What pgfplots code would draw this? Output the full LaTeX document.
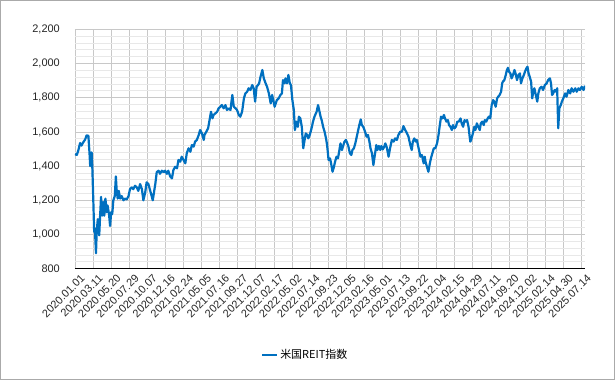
\documentclass[border=0pt]{standalone}
\usepackage{pgfplots}
\pgfplotsset{compat=1.18}
\usepackage{fontspec}
\setmainfont{Liberation Sans}
\newfontfamily\cjk{Noto Sans CJK JP}
\definecolor{reit}{RGB}{0,112,192}
\definecolor{gmaj}{RGB}{200,200,200}
\definecolor{gmin}{RGB}{232,232,232}
\definecolor{frame}{RGB}{170,170,170}
\begin{document}
\begin{tikzpicture}
\begin{axis}[
  at={(0,0)}, anchor=south west,
  scale only axis, width=510bp, height=239.4bp,
  xmin=0, xmax=1410, ymin=800, ymax=2200,
  xtick={0,50,...,1400},
  xticklabels={2020.01.01,2020.03.11,2020.05.20,2020.07.29,2020.10.07,2020.12.16,2021.02.24,2021.05.05,2021.07.16,2021.09.27,2021.12.07,2022.02.17,2022.05.02,2022.07.14,2022.09.23,2022.12.05,2023.02.16,2023.05.01,2023.07.13,2023.09.22,2023.12.04,2024.02.15,2024.04.29,2024.07.11,2024.09.20,2024.12.02,2025.02.14,2025.04.30,2025.07.14},
  ytick={800,1000,...,2200},
  minor y tick num=4,
  major tick length=0pt, minor tick length=0pt,
  xmajorgrids, ymajorgrids, yminorgrids,
  major grid style={gmaj, line width=0.8bp},
  minor grid style={gmin, line width=0.8bp},
  axis x line*=bottom, axis y line*=left,
  x axis line style={black, line width=1.3bp, -},
  y axis line style={draw=none},
  /pgf/number format/.cd, 1000 sep={,}, assume math mode=true,
  /pgfplots/.cd,
  ticklabel style={font=\fontsize{11}{13}\selectfont, text=black!85},
  yticklabel style={inner sep=0pt, xshift=-15bp},
  xticklabel style={rotate=45, anchor=north east, inner sep=0pt, yshift=-7bp, xshift=0bp},
  legend style={draw=none, fill=none, at={(axis description cs:0.451,-0.36)}, anchor=center, font=\fontsize{11}{13}\selectfont},
  legend image code/.code={\draw[#1, line width=2.5bp] (0bp,0bp) -- (15bp,0bp);},
]
\addplot[reit, line width=2.2bp, line join=round] coordinates {
(0,1470)(5,1465)(9,1490)(14,1535)(18,1520)(23,1540)(28,1555)(32,1580)(37,1577)(40,1480)
(42,1400)(43,1440)(46,1480)(48,1385)(51,1170)(53,1015)(55,1035)(58,890)(60,1015)(63,1090)
(65,1035)(67,995)(69,1090)(72,1220)(75,1110)(78,1190)(81,1110)(84,1210)(88,1130)(90,1170)
(94,1120)(97,1050)(100,1130)(103,1120)(106,1200)(110,1225)(113,1340)(115,1265)(118,1210)(121,1255)
(125,1210)(129,1225)(134,1200)(138,1210)(143,1205)(148,1225)(152,1265)(157,1275)(161,1265)(166,1285)
(171,1275)(175,1255)(180,1295)(185,1265)(189,1200)(194,1245)(198,1305)(203,1295)(208,1255)(212,1225)
(215,1200)(219,1255)(222,1295)(226,1365)(231,1373)(235,1355)(240,1373)(245,1365)(249,1373)(254,1355)
(258,1373)(263,1340)(268,1328)(272,1377)(277,1396)(282,1387)(286,1436)(291,1426)(295,1455)(300,1436)
(305,1416)(309,1475)(314,1504)(319,1484)(323,1523)(328,1514)(332,1543)(337,1553)(342,1582)(346,1611)
(351,1591)(356,1553)(358,1582)(363,1601)(368,1621)(372,1669)(376,1718)(380,1679)(383,1699)(388,1708)
(393,1718)(397,1738)(402,1747)(406,1757)(411,1738)(416,1757)(420,1728)(425,1738)(430,1728)(432,1767)
(435,1816)(439,1747)(444,1738)(448,1728)(453,1699)(457,1689)(462,1718)(467,1796)(471,1825)(476,1835)
(480,1855)(485,1845)(490,1874)(494,1855)(498,1777)(502,1864)(506,1874)(509,1884)(513,1923)(518,1962)
(522,1913)(527,1884)(531,1864)(536,1825)(541,1767)(545,1816)(550,1767)(552,1747)(555,1767)(558,1786)
(563,1796)(568,1816)(572,1825)(575,1903)(579,1884)(582,1913)(586,1884)(590,1933)(594,1884)(597,1874)
(601,1786)(605,1728)(608,1611)(612,1660)(616,1630)(619,1689)(623,1679)(627,1630)(631,1504)(634,1543)
(638,1591)(642,1582)(645,1562)(649,1582)(654,1621)(658,1660)(662,1689)(668,1718)(672,1757)(675,1728)
(679,1689)(682,1669)(686,1630)(690,1601)(694,1562)(697,1523)(701,1436)(705,1445)(708,1416)(712,1367)
(716,1396)(719,1426)(723,1455)(727,1445)(731,1494)(734,1533)(738,1494)(742,1523)(745,1543)(749,1553)
(753,1533)(756,1514)(760,1475)(764,1465)(767,1494)(771,1504)(775,1533)(779,1572)(782,1601)(786,1640)
(790,1673)(793,1640)(797,1630)(802,1601)(806,1572)(810,1582)(814,1543)(817,1504)(821,1475)(825,1406)
(829,1465)(833,1523)(836,1494)(840,1518)(844,1494)(847,1518)(851,1498)(855,1514)(858,1533)(862,1509)
(867,1455)(871,1504)(876,1553)(881,1543)(885,1562)(890,1553)(894,1582)(899,1601)(904,1601)(908,1634)
(913,1611)(918,1591)(922,1572)(927,1523)(931,1494)(934,1543)(938,1562)(942,1543)(945,1553)(950,1504)
(955,1455)(959,1465)(964,1416)(967,1455)(969,1426)(973,1396)(977,1367)(981,1416)(984,1445)(988,1475)
(992,1504)(996,1504)(1001,1533)(1005,1582)(1008,1630)(1012,1689)(1016,1679)(1020,1699)(1023,1679)(1027,1660)
(1031,1669)(1034,1640)(1038,1630)(1042,1611)(1045,1640)(1049,1621)(1053,1630)(1057,1660)(1061,1660)(1066,1679)
(1069,1650)(1073,1630)(1077,1669)(1080,1660)(1084,1669)(1088,1630)(1091,1575)(1093,1543)(1095,1552)(1100,1591)
(1104,1630)(1107,1611)(1111,1650)(1115,1630)(1119,1611)(1122,1650)(1126,1660)(1130,1640)(1133,1669)(1137,1660)
(1141,1679)(1144,1689)(1148,1679)(1152,1757)(1156,1786)(1159,1777)(1163,1747)(1167,1796)(1170,1806)(1174,1816)
(1178,1835)(1181,1884)(1183,1894)(1187,1903)(1191,1933)(1194,1962)(1197,1975)(1200,1952)(1204,1942)(1207,1913)
(1211,1933)(1215,1962)(1218,1942)(1222,1903)(1226,1933)(1230,1942)(1233,1884)(1237,1913)(1241,1933)(1244,1952)
(1248,1972)(1251,1981)(1254,1942)(1257,1923)(1261,1894)(1264,1796)(1267,1835)(1270,1855)(1274,1816)(1278,1777)
(1281,1825)(1285,1855)(1290,1864)(1294,1845)(1299,1874)(1304,1884)(1308,1903)(1313,1913)(1316,1884)(1319,1816)
(1322,1825)(1326,1845)(1330,1835)(1333,1855)(1336,1621)(1339,1738)(1343,1757)(1346,1777)(1350,1796)(1355,1825)
(1359,1806)(1364,1845)(1369,1825)(1373,1855)(1378,1835)(1383,1855)(1387,1835)(1392,1855)(1396,1845)(1401,1864)
(1406,1845)(1410,1870)
};
\addlegendentry{\cjk 米国REIT指数}
\end{axis}
\pgfresetboundingbox
\useasboundingbox (-75bp,-111.3bp) rectangle (540bp,268.7bp);
\draw[frame, line width=1bp] (-74.5bp,-110.8bp) rectangle (539.5bp,268.2bp);
\end{tikzpicture}
\end{document}
